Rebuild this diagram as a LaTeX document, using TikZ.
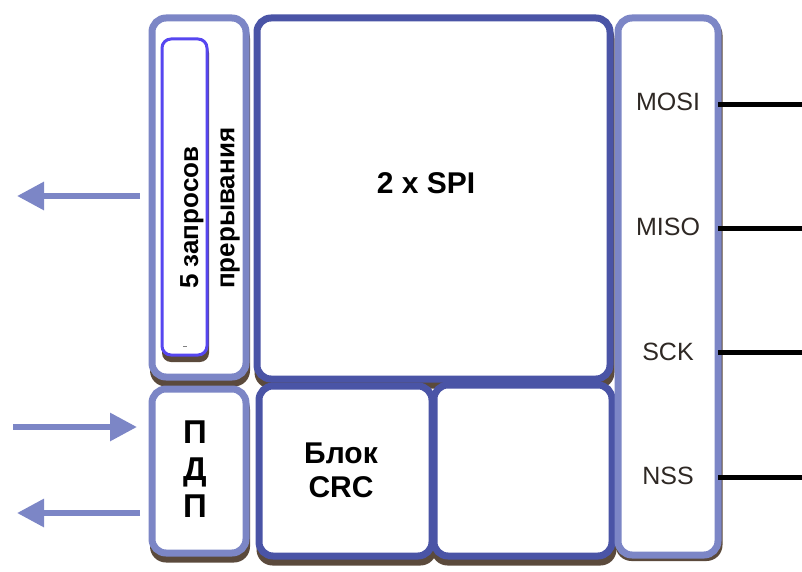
\documentclass[tikz,border=0pt]{standalone}
\usepackage{fontspec}
\setmainfont{Liberation Sans}
\usetikzlibrary{arrows.meta}
\definecolor{lightfr}{HTML}{7C86C6}
\definecolor{darkfr}{HTML}{4A54A6}
\definecolor{barcol}{HTML}{5646F0}
\definecolor{shadowcol}{HTML}{5B4A3C}
\definecolor{labcol}{HTML}{2E2824}
\tikzset{
  boxbase/.style={rectangle, fill=white, line width=7pt, rounded corners=14pt, inner sep=0pt, outer sep=0pt},
  lightbox/.style={boxbase, draw=lightfr},
  darkbox/.style={boxbase, draw=darkfr},
  shadowbox/.style={rectangle, fill=shadowcol, rounded corners=16pt, inner sep=0pt, outer sep=0pt},
  barbox/.style={rectangle, fill=white, draw=barcol, line width=3pt, rounded corners=9pt, inner sep=0pt},
  sig/.style={line width=5pt, black},
  arr/.style={line width=6pt, lightfr, -{Triangle[length=27pt,width=27pt]}},
  pinlab/.style={text=labcol, font=\fontsize{25}{29}\selectfont, inner sep=0pt},
  boldlab/.style={font=\bfseries\fontsize{30}{34}\selectfont, align=center, inner sep=0pt}
}
\begin{document}
\begin{tikzpicture}[x=1pt,y=-1pt]
\useasboundingbox (0,0) rectangle (802,572);
% shadows
\node[shadowbox, minimum width=100pt, minimum height=364pt] (irqS) at (200,204.5) {};
\node[shadowbox, minimum width=100pt, minimum height=169pt] (pdpS) at (200,478) {};
\node[shadowbox, minimum width=360pt, minimum height=366pt] (spiS) at (434.5,205.5) {};
\node[shadowbox, minimum width=180pt, minimum height=175pt] (crcS) at (346.5,478) {};
\node[shadowbox, minimum width=185pt, minimum height=176pt] (empS) at (524,477.5) {};
\node[shadowbox, minimum width=107pt, minimum height=542pt] (pinS) at (669,290) {};
% boxes
\node[lightbox, minimum width=94pt, minimum height=359pt] (irq) at (199,197.5) {};
\node[lightbox, minimum width=94pt, minimum height=164pt] (pdp) at (199,471) {};
\node[darkbox, minimum width=353pt, minimum height=361pt] (spi) at (433.5,198.5) {};
\node[darkbox, minimum width=173pt, minimum height=170pt] (crc) at (345.5,471) {};
\node[darkbox, minimum width=178pt, minimum height=171pt] (emp) at (523,470.5) {};
\node[lightbox, minimum width=100pt, minimum height=537pt] (pins) at (668,286.5) {};
% interrupt bar
\node[shadowbox, rounded corners=9pt, minimum width=47pt, minimum height=318pt] (barS) at (185.5,203) {};
\node[barbox, minimum width=45pt, minimum height=316pt] (bar) at (184.5,197) {};
\coordinate (mkA) at (183,346);
\coordinate (mkB) at (187,346);
\draw[gray, line width=1pt] (mkA) -- (mkB);
% texts
\node[rotate=90, anchor=west, align=left, inner sep=0pt, font=\bfseries\fontsize{26}{36}\selectfont] (irqt) at (210,289) {5 запросов\\прерывания};
\node[boldlab] (spit) at (426,183) {2 x SPI};
\node[boldlab] (crct) at (341,470) {Блок\\CRC};
\node[boldlab, font=\bfseries\fontsize{33}{37}\selectfont] (pdpt) at (195,469) {П\\Д\\П};
\node[pinlab] (mosi) at (668,102) {MOSI};
\node[pinlab] (miso) at (668,227) {MISO};
\node[pinlab] (sck) at (668,352) {SCK};
\node[pinlab] (nss) at (668,476) {NSS};
% signal lines
\coordinate (mosiE) at (802,105);
\coordinate (misoE) at (802,228);
\coordinate (sckE) at (802,352);
\coordinate (nssE) at (802,477);
\draw[sig] (mosiE -| pins.east) -- (mosiE);
\draw[sig] (misoE -| pins.east) -- (misoE);
\draw[sig] (sckE -| pins.east) -- (sckE);
\draw[sig] (nssE -| pins.east) -- (nssE);
% arrows
\coordinate (a1s) at (140,196);
\coordinate (a1e) at (17,196);
\coordinate (a2s) at (13,427);
\coordinate (a2e) at (137,427);
\coordinate (a3s) at (140,513);
\coordinate (a3e) at (17,513);
\draw[arr] (a1s) -- (a1e);
\draw[arr] (a2s) -- (a2e);
\draw[arr] (a3s) -- (a3e);
\end{tikzpicture}
\end{document}
